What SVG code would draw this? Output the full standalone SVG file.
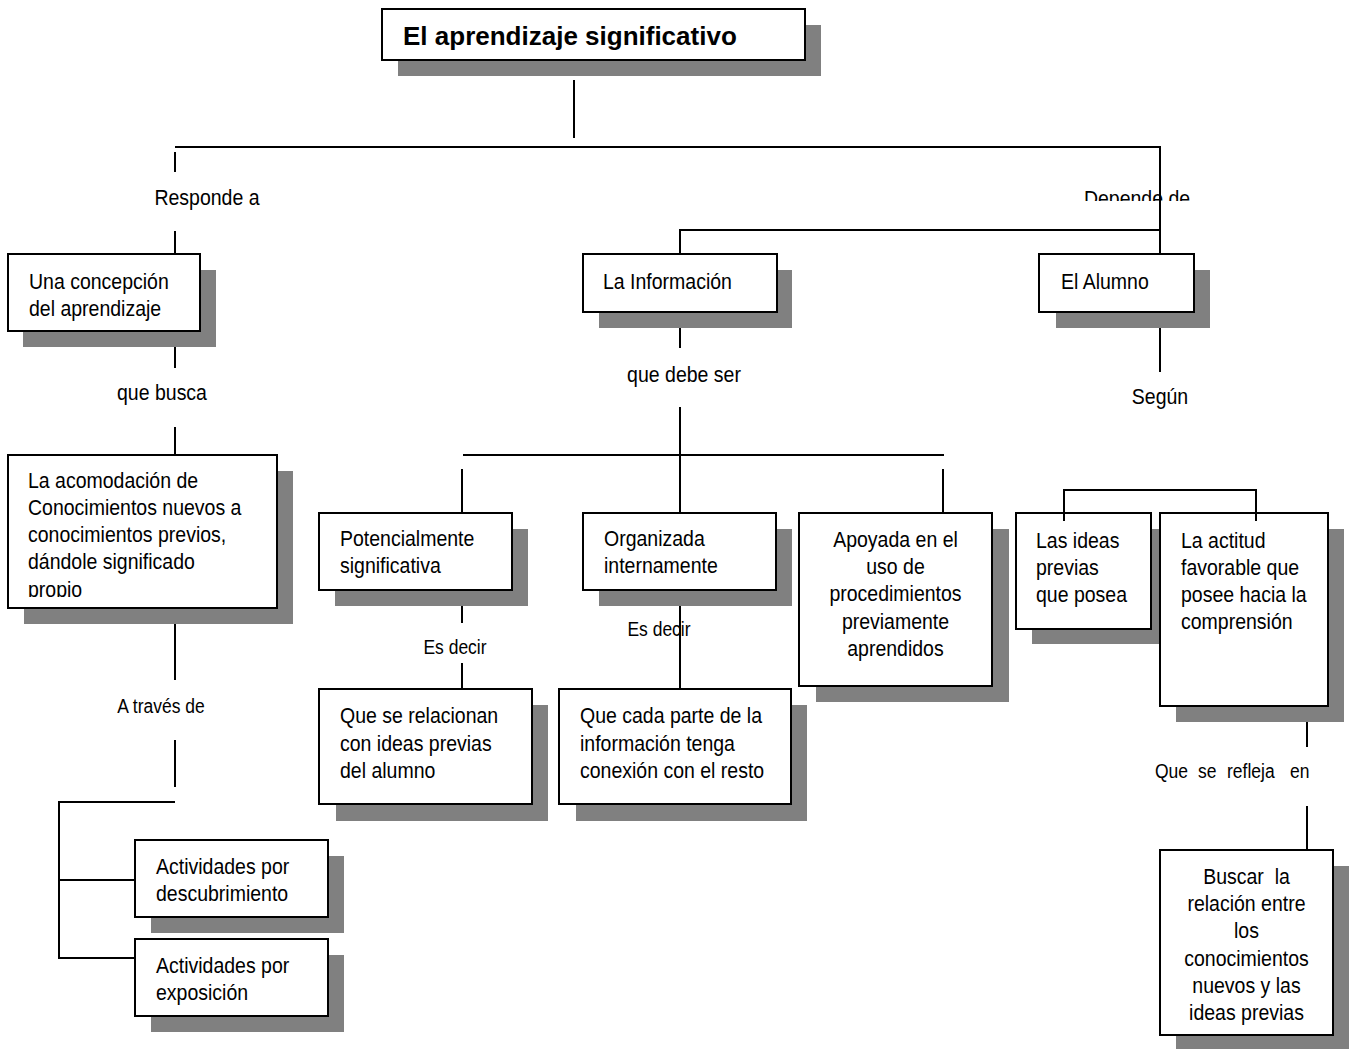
<svg xmlns="http://www.w3.org/2000/svg" width="1354" height="1049" viewBox="0 0 1354 1049">
  <style>
    .shadow { fill: #808080; stroke: none; }
    .box { fill: #ffffff; stroke: #000000; stroke-width: 2; }
    .t, .s { font-family: "Liberation Sans", Arial, sans-serif; fill: #000000;
             transform-box: fill-box; transform-origin: center; transform: scaleY(1.15); }
    .t { font-size: 19.5px; }
    .s { font-size: 17.5px; }
    .title { font-family: "Liberation Sans", Arial, sans-serif; font-size: 26px; font-weight: bold; fill: #000000; }
    .mid { text-anchor: middle; }
    .conn line, .conn polyline { stroke: #000000; stroke-width: 2; fill: none; }
  </style>
  <defs>
    <clipPath id="clipAcomodacion"><rect x="8" y="456" width="268" height="141"/></clipPath>
    <clipPath id="clipDepende"><rect x="1070" y="170" width="140" height="31"/></clipPath>
  </defs>
  <rect x="0" y="0" width="1354" height="1049" fill="#ffffff"/>

  <!-- Title -->
  <g id="n-title">
    <rect class="shadow" x="398" y="25" width="423" height="51"/>
    <rect class="box" x="382" y="9" width="423" height="51"/>
    <text class="title" x="403" y="45">El aprendizaje significativo</text>
  </g>

  <!-- Left column -->
  <g id="n-concepcion">
    <rect class="shadow" x="23" y="270" width="193" height="77"/>
    <rect class="box" x="8" y="254" width="192" height="77"/>
    <text class="t" x="29" y="288">Una concepción</text>
    <text class="t" x="29" y="315">del aprendizaje</text>
  </g>

  <g id="n-acomodacion">
    <rect class="shadow" x="24" y="471" width="269" height="153"/>
    <rect class="box" x="8" y="455" width="269" height="153"/>
    <g clip-path="url(#clipAcomodacion)">
      <text class="t" x="28" y="487">La acomodación de</text>
      <text class="t" x="28" y="514">Conocimientos nuevos a</text>
      <text class="t" x="28" y="541">conocimientos previos,</text>
      <text class="t" x="28" y="568">dándole significado</text>
      <text class="t" x="28" y="596">propio</text>
    </g>
  </g>

  <g id="n-descubrimiento">
    <rect class="shadow" x="151" y="856" width="193" height="77"/>
    <rect class="box" x="135" y="840" width="193" height="77"/>
    <text class="t" x="156" y="873">Actividades por</text>
    <text class="t" x="156" y="900">descubrimiento</text>
  </g>

  <g id="n-exposicion">
    <rect class="shadow" x="151" y="955" width="193" height="77"/>
    <rect class="box" x="135" y="939" width="193" height="77"/>
    <text class="t" x="156" y="972">Actividades por</text>
    <text class="t" x="156" y="999">exposición</text>
  </g>

  <!-- Middle column -->
  <g id="n-informacion">
    <rect class="shadow" x="599" y="270" width="193" height="58"/>
    <rect class="box" x="583" y="254" width="194" height="58"/>
    <text class="t" x="603" y="288">La Información</text>
  </g>

  <g id="n-potencial">
    <rect class="shadow" x="335" y="529" width="193" height="77"/>
    <rect class="box" x="319" y="513" width="193" height="77"/>
    <text class="t" x="340" y="545">Potencialmente</text>
    <text class="t" x="340" y="572">significativa</text>
  </g>

  <g id="n-organizada">
    <rect class="shadow" x="599" y="529" width="193" height="77"/>
    <rect class="box" x="583" y="513" width="193" height="77"/>
    <text class="t" x="604" y="545">Organizada</text>
    <text class="t" x="604" y="572">internamente</text>
  </g>

  <g id="n-apoyada">
    <rect class="shadow" x="816" y="529" width="193" height="173"/>
    <rect class="box" x="799" y="513" width="193" height="173"/>
    <text class="t mid" x="895.5" y="546">Apoyada en el</text>
    <text class="t mid" x="895.5" y="573">uso de</text>
    <text class="t mid" x="895.5" y="600">procedimientos</text>
    <text class="t mid" x="895.5" y="628">previamente</text>
    <text class="t mid" x="895.5" y="655">aprendidos</text>
  </g>

  <g id="n-relacionan">
    <rect class="shadow" x="336" y="705" width="212" height="116"/>
    <rect class="box" x="319" y="689" width="213" height="115"/>
    <text class="t" x="340" y="722">Que se relacionan</text>
    <text class="t" x="340" y="750">con ideas previas</text>
    <text class="t" x="340" y="777">del alumno</text>
  </g>

  <g id="n-cada-parte">
    <rect class="shadow" x="576" y="705" width="231" height="116"/>
    <rect class="box" x="559" y="689" width="232" height="115"/>
    <text class="t" x="580" y="722">Que cada parte de la</text>
    <text class="t" x="580" y="750">información tenga</text>
    <text class="t" x="580" y="777">conexión con el resto</text>
  </g>

  <!-- Right column -->
  <g id="n-alumno">
    <rect class="shadow" x="1056" y="270" width="154" height="58"/>
    <rect class="box" x="1039" y="254" width="155" height="58"/>
    <text class="t" x="1061" y="288">El Alumno</text>
  </g>

  <g id="n-ideas">
    <rect class="shadow" x="1032" y="529" width="135" height="115"/>
    <rect class="box" x="1016" y="513" width="135" height="116"/>
    <text class="t" x="1036" y="547">Las ideas</text>
    <text class="t" x="1036" y="574">previas</text>
    <text class="t" x="1036" y="601">que posea</text>
  </g>

  <g id="n-actitud">
    <rect class="shadow" x="1176" y="529" width="168" height="193"/>
    <rect class="box" x="1160" y="513" width="168" height="193"/>
    <text class="t" x="1181" y="547">La actitud</text>
    <text class="t" x="1181" y="574">favorable que</text>
    <text class="t" x="1181" y="601">posee hacia la</text>
    <text class="t" x="1181" y="628">comprensión</text>
  </g>

  <g id="n-buscar">
    <rect class="shadow" x="1176" y="866" width="173" height="185"/>
    <rect class="box" x="1160" y="850" width="173" height="185"/>
    <text class="t mid" x="1246.5" y="883" xml:space="preserve">Buscar  la</text>
    <text class="t mid" x="1246.5" y="910">relación entre</text>
    <text class="t mid" x="1246.5" y="937">los</text>
    <text class="t mid" x="1246.5" y="965">conocimientos</text>
    <text class="t mid" x="1246.5" y="992">nuevos y las</text>
    <text class="t mid" x="1246.5" y="1019">ideas previas</text>
  </g>

  <!-- Connectors and their labels -->
  <g id="connectors" class="conn">
    <line x1="574" y1="80" x2="574" y2="138"/>
    <line x1="175" y1="147" x2="1161" y2="147"/>

    <line x1="175" y1="152" x2="175" y2="172"/>
    <text class="t mid" x="207" y="204">Responde a</text>
    <line x1="175" y1="231" x2="175" y2="254"/>
    <line x1="175" y1="347" x2="175" y2="368"/>
    <text class="t mid" x="162" y="399">que busca</text>
    <line x1="175" y1="427" x2="175" y2="455"/>
    <line x1="175" y1="624" x2="175" y2="680"/>
    <text class="s mid" x="161" y="712">A través de</text>
    <line x1="175" y1="740" x2="175" y2="787"/>
    <polyline points="175,802 59,802 59,958 135,958"/>
    <line x1="59" y1="880" x2="135" y2="880"/>

    <g clip-path="url(#clipDepende)">
      <text class="t mid" x="1137" y="205">Depende de</text>
    </g>
    <line x1="1160" y1="147" x2="1160" y2="254"/>
    <polyline points="1160,230 680,230 680,254"/>

    <line x1="680" y1="328" x2="680" y2="348"/>
    <text class="t mid" x="684" y="381">que debe ser</text>
    <line x1="680" y1="407" x2="680" y2="513"/>
    <line x1="463" y1="455" x2="944" y2="455"/>
    <line x1="462" y1="469" x2="462" y2="513"/>
    <line x1="943" y1="469" x2="943" y2="513"/>

    <line x1="462" y1="606" x2="462" y2="623"/>
    <text class="s mid" x="455" y="653">Es decir</text>
    <line x1="462" y1="663" x2="462" y2="689"/>
    <text class="s mid" x="659" y="635">Es decir</text>
    <line x1="680" y1="606" x2="680" y2="689"/>

    <line x1="1160" y1="328" x2="1160" y2="372"/>
    <text class="t mid" x="1160" y="403">Según</text>

    <polyline points="1064,521 1064,490 1256,490 1256,521"/>

    <line x1="1307" y1="722" x2="1307" y2="747"/>
    <text class="s" y="777"><tspan x="1155">Que</tspan><tspan x="1198">se</tspan><tspan x="1227">refleja</tspan><tspan x="1290">en</tspan></text>
    <line x1="1307" y1="806" x2="1307" y2="850"/>
  </g>
</svg>
